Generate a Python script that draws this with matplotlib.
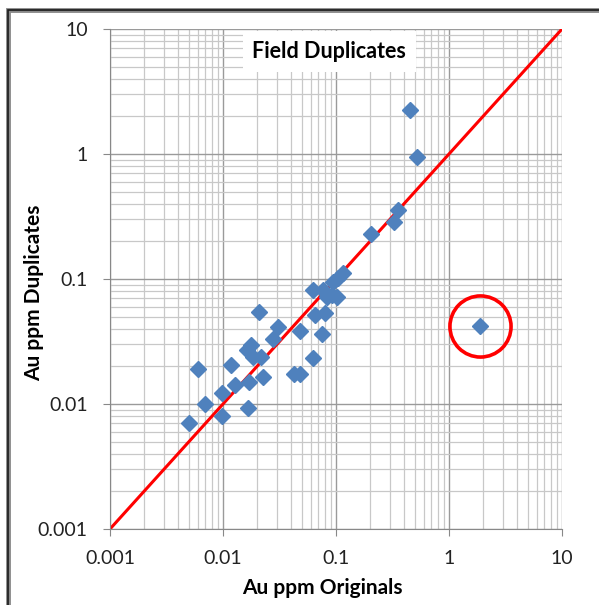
import matplotlib.pyplot as plt
import matplotlib.ticker as mtick
from matplotlib.patches import Rectangle

# Au ppm, originals vs field duplicates
originals = [0.452, 0.521, 1.88, 0.354, 0.326, 0.204, 0.115, 0.104, 0.094,
             0.0625, 0.0768, 0.0923, 0.102, 0.0832, 0.0651, 0.080, 0.0751,
             0.048, 0.0625, 0.0424, 0.048, 0.0208, 0.0307, 0.0277, 0.00601,
             0.0118, 0.0163, 0.0177, 0.0184, 0.0217, 0.0226, 0.017, 0.0128,
             0.0098, 0.00694, 0.0166, 0.0098, 0.005]
duplicates = [2.25, 0.946, 0.042, 0.356, 0.286, 0.229, 0.112, 0.102, 0.0946,
              0.0817, 0.0817, 0.0745, 0.0718, 0.0718, 0.0515, 0.0535, 0.0363,
              0.0384, 0.0233, 0.0174, 0.0174, 0.0545, 0.0413, 0.0331, 0.019,
              0.0205, 0.027, 0.0296, 0.0238, 0.0238, 0.0164, 0.015, 0.0142,
              0.0123, 0.010, 0.0093, 0.008, 0.00705]
outlier = (1.88, 0.042)
line_xy = [0.001, 10]
ticks = [0.001, 0.01, 0.1, 1, 10]
tick_labels = ['0.001', '0.01', '0.1', '1', '10']

plt.rcParams['font.family'] = ['Lato', 'DejaVu Sans']

fig = plt.figure(figsize=(5.99, 6.05), dpi=100)
ax = fig.add_axes([110/599, 1-529/605, 452/599, 500/605])
ax.set_xscale('log')
ax.set_yscale('log')
ax.set_xlim(0.001, 10)
ax.set_ylim(0.001, 10)

ax.grid(True, which='major', color='#9a9a9a', lw=1.0)
ax.grid(True, which='minor', color='#c8c8c8', lw=0.9)
ax.set_axisbelow(True)

ax.plot(line_xy, line_xy, color='#ff0000', lw=2.2, zorder=2)
ax.plot(originals, duplicates, 'D', color='#4f81bd', ms=8.5, mec='#4f81bd', zorder=3)
ax.plot([outlier[0]], [outlier[1]], 'o', ms=44, mfc='none', mec='#ff0000', mew=2.6, zorder=4)

ax.set_xticks(ticks)
ax.set_xticklabels(tick_labels)
ax.set_yticks(ticks)
ax.set_yticklabels(tick_labels)
ax.xaxis.set_minor_formatter(mtick.NullFormatter())
ax.yaxis.set_minor_formatter(mtick.NullFormatter())
ax.tick_params(which='major', length=5, color='#888888', labelsize=14, labelcolor='#222222')
ax.tick_params(which='minor', length=0)
ax.tick_params(axis='x', pad=10)
ax.tick_params(axis='y', pad=11)
for s in ['top', 'right']:
    ax.spines[s].set_visible(False)
for s in ['left', 'bottom']:
    ax.spines[s].set_color('#888888')

ax.set_xlabel('Au ppm Originals', fontsize=15, fontweight='bold')
ax.set_ylabel('Au ppm Duplicates', fontsize=15, fontweight='bold')
ax.xaxis.set_label_coords(0.469, -0.097)
ax.yaxis.set_label_coords(-0.146, 0.472)

ax.text(0.485, 0.955, 'Field Duplicates', transform=ax.transAxes, ha='center', va='center',
        fontsize=15.5, fontweight='bold', zorder=5,
        bbox=dict(facecolor='white', edgecolor='none', pad=7))

# outer frame (runs off the right and bottom edges), grey band with dark core
frame = (7.5/599, -0.2)
fig.patches.append(Rectangle(frame, 1.5, 1.2 - 9.5/605, transform=fig.transFigure,
                             fill=False, edgecolor='#8a8a8a', lw=3.5))
fig.patches.append(Rectangle(frame, 1.5, 1.2 - 9.5/605, transform=fig.transFigure,
                             fill=False, edgecolor='#1a1a1a', lw=1.2))

plt.savefig('out.png', dpi=100)
